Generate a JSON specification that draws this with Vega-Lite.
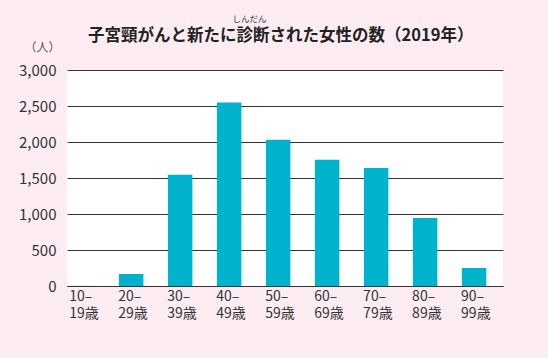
{
  "$schema": "https://vega.github.io/schema/vega-lite/v6.json",
  "autosize": {"type": "none"},
  "padding": {"left": 67, "top": 70, "right": 45, "bottom": 72},
  "width": 436,
  "height": 216,
  "background": "#fdedf2",
  "config": {
    "view": {"fill": "white", "stroke": null},
    "font": "Noto Sans CJK JP"
  },
  "title": {
    "text": "\u200b　　　　　　　　　　　　　　　　　しんだん",
    "subtitle": "子宮頸がんと新たに診断された女性の数（2019年）",
    "anchor": "start",
    "frame": "group",
    "dx": 21,
    "offset": -3,
    "font": "Noto Sans CJK JP",
    "fontSize": 8.5,
    "fontWeight": "normal",
    "color": "#333333",
    "subtitleFont": "Noto Sans CJK JP",
    "subtitleFontSize": 16.5,
    "subtitleFontWeight": "bold",
    "subtitleColor": "#222222",
    "subtitlePadding": 4
  },
  "data": {
    "values": [
      {"age": "10–19歳", "count": 2},
      {"age": "20–29歳", "count": 167},
      {"age": "30–39歳", "count": 1545},
      {"age": "40–49歳", "count": 2549},
      {"age": "50–59歳", "count": 2031},
      {"age": "60–69歳", "count": 1752},
      {"age": "70–79歳", "count": 1638},
      {"age": "80–89歳", "count": 943},
      {"age": "90–99歳", "count": 250}
    ]
  },
  "mark": {"type": "bar", "color": "#00b3cc"},
  "encoding": {
    "x": {
      "field": "age",
      "type": "nominal",
      "sort": null,
      "scale": {"paddingInner": 0.5, "paddingOuter": 0.2, "align": 0.15},
      "axis": {
        "title": null,
        "labelAngle": 0,
        "labelAlign": "left",
        "labelOffset": -13,
        "labelExpr": "[substring(datum.value,0,3), substring(datum.value,3)]",
        "labelFontSize": 14,
        "labelLineHeight": 17,
        "labelColor": "#333333",
        "labelPadding": 3,
        "ticks": false,
        "domain": true,
        "domainColor": "#333333",
        "domainWidth": 1.2,
        "grid": false
      }
    },
    "y": {
      "field": "count",
      "type": "quantitative",
      "scale": {"domain": [0, 3000], "nice": false},
      "axis": {
        "values": [0, 500, 1000, 1500, 2000, 2500, 3000],
        "format": ",d",
        "title": "（人）",
        "titleAngle": 0,
        "titleX": -25,
        "titleY": -23,
        "titleAlign": "center",
        "titleBaseline": "middle",
        "titleFontSize": 12,
        "titleFontWeight": "normal",
        "titleColor": "#555555",
        "labelFontSize": 15,
        "labelColor": "#333333",
        "labelPadding": 11,
        "ticks": false,
        "domain": false,
        "grid": true,
        "gridColor": "#333333",
        "gridWidth": 1,
        "gridOpacity": 1
      }
    }
  }
}
